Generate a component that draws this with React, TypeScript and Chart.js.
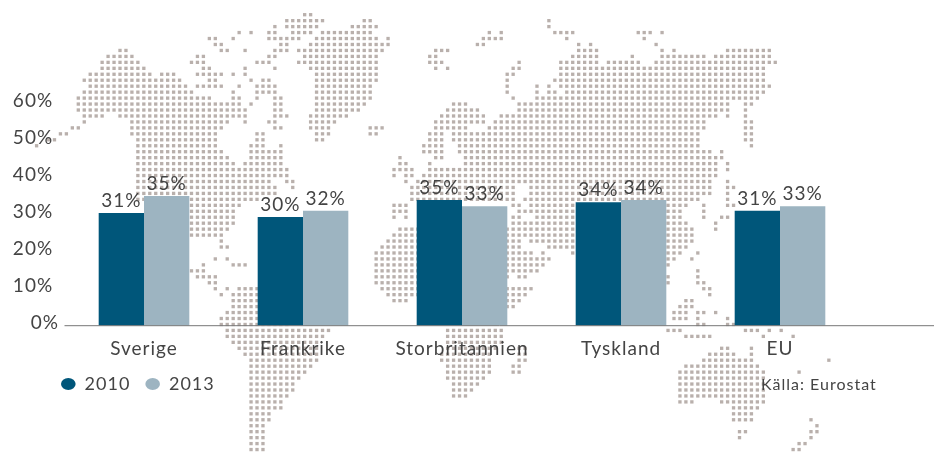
import React, { useEffect, useRef } from "react";
import { Chart, registerables } from "chart.js";

Chart.register(...registerables);

const categories = ["Sverige", "Frankrike", "Storbritannien", "Tyskland", "EU"];
const values2010 = [30.4, 29.3, 33.9, 33.3, 31];
const values2013 = [35, 31, 32.2, 33.9, 32.2];
const labels2010 = ["31%", "30%", "35%", "34%", "31%"];
const labels2013 = ["35%", "32%", "33%", "34%", "33%"];
const yTicks: Record<number, string> = { 0: "0%", 10: "10% ", 20: "20% ", 30: "30% ", 40: "40% ", 50: "50% ", 60: "60% " };
const sourceText = "Källa: Eurostat";

// Dotted world map: one list per grid row, flat [fromColumn, toColumn, ...] pairs.
const mapRows: number[][] = [
  [38,39],
  [35,41,48,49,79,79],
  [33,33,35,40,46,50,79,79],
  [27,27,29,29,32,33,36,39,41,49,69,69,71,71,80,83,94,96,98,98],
  [22,23,26,26,32,37,40,50,52,52,68,71,82,82,95,95],
  [23,24,34,35,39,52,67,68,84,84,86,86,97,97],
  [7,8,24,25,28,28,33,35,37,51,60,62,84,87,98,98,100,100,109,116],
  [5,9,20,21,32,33,38,50,59,60,83,87,93,93,98,105,107,116],
  [4,10,19,21,30,32,37,50,59,61,74,74,81,87,89,94,97,117],
  [4,11,21,22,28,28,33,33,39,50,60,60,62,62,73,74,81,115],
  [2,12,14,16,20,24,26,26,28,28,40,50,72,73,81,115],
  [1,17,22,23,29,29,31,32,40,50,72,72,80,115],
  [2,18,20,24,27,27,30,33,40,49,72,72,77,77,79,79,81,116],
  [1,19,26,26,30,33,40,49,72,72,77,77,79,80,82,115],
  [0,22,26,27,30,30,33,34,40,49,73,73,77,114],
  [0,27,29,29,33,34,40,48,63,65,74,109,112,113],
  [0,28,33,34,40,47,62,67,74,109,112,112],
  [1,4,7,27,28,28,33,35,39,45,61,68,71,107,109,109,112,112],
  [1,1,9,25,28,28,32,33,39,43,60,68,70,105,112,113],
  [-1,0,9,24,33,34,39,42,49,51,60,65,69,105,112,113],
  [-3,-2,9,23,30,31,40,42,49,50,59,61,63,104,112,113],
  [-5,-4,10,23,30,31,40,41,59,61,63,104,112,113],
  [-7,-7,10,23,29,31,34,34,58,61,64,104,113,113],
  [10,24,29,34,58,61,64,106,108,108],
  [10,25,29,34,54,54,60,61,65,107,108,108],
  [10,26,28,34,54,55,59,59,65,107,109,109],
  [10,27,28,35,53,56,59,107,109,109],
  [10,35,53,53,55,56,58,107],
  [10,32,35,36,55,55,57,106,109,109],
  [10,33,36,36,56,73,76,106,109,110],
  [10,33,56,73,76,106,109,109],
  [10,30,56,73,75,104,109,109],
  [19,27,53,55,73,74,76,102,105,105,109,110],
  [19,26,53,55,74,101,105,105],
  [19,26,53,53,55,55,73,74,77,101,105,105,108,109],
  [19,26,73,74,75,76,77,102,107,107],
  [19,25,54,103,107,107],
  [19,24,53,103],
  [24,24,52,74,76,103],
  [24,25,51,74,79,102],
  [50,76,78,78,83,101,104,104],
  [23,23,25,25,50,79,99,100,103,103],
  [21,21,26,28,50,78,99,99],
  [19,21,50,77,104,104],
  [20,23,50,72,74,75,99,99,104,104],
  [22,23,50,71,99,99,104,105],
  [23,23,25,25,27,35,51,76,105,106],
  [24,24,26,35,52,75,106,106],
  [26,35,53,55,72,74,102,103],
  [26,35,72,73,101,103],
  [25,35,100,102,104,105,107,107],
  [24,35,100,102,104,104,109,109],
  [24,35,104,105,109,110],
  [25,42,62,71,99,101,112,114,116,116,118,118],
  [25,41,62,71,102,106,115,115,120,120],
  [26,40,62,71],
  [27,40,62,70,74,75,108,109,113,113],
  [28,40,61,69,74,75,106,110,113,113],
  [29,40,61,69,74,75,105,113,126,126],
  [29,39,62,69,73,74,102,114],
  [29,38,62,69,73,74,101,115,121,121],
  [29,37,62,68,101,115],
  [29,36,63,67,101,115],
  [29,36,63,66,101,115],
  [29,35,63,65,101,115],
  [29,34,101,103,108,115],
  [29,34,110,114],
  [29,32,110,113],
  [29,32,110,113,123,123],
  [29,31,124,124],
  [29,31,111,112,123,124],
  [29,31,111,111,123,123],
  [29,31,121,122],
  [29,31,120,121],
];

const FONT = "Lato";
const FONT_SIZE = 19;
const TEXT = "#444444";
const DARK = "#00567a";
const LIGHT = "#9db4c1";
const DOT = "#b9b0ac";

const mapPoints = mapRows.flatMap((spans, row) => {
  const pts: { x: number; y: number }[] = [];
  for (let i = 0; i < spans.length; i += 2) {
    for (let col = spans[i]; col <= spans[i + 1]; col++) pts.push({ x: col, y: row });
  }
  return pts;
});

const spacingPlugin = {
  id: "spacing",
  beforeUpdate(chart: any) { chart.ctx.letterSpacing = "1px"; },
  beforeDraw(chart: any) { chart.ctx.letterSpacing = "1px"; },
};

const overlayPlugin = {
  id: "overlay",
  afterLayout(chart: any) {
    chart.legend.left = 46;
  },
  afterDatasetsDraw(chart: any) {
    const { ctx, scales } = chart;
    const y0 = scales.y.getPixelForValue(0);
    ctx.save();
    ctx.strokeStyle = "#777777";
    ctx.lineWidth = 1;
    ctx.beginPath();
    ctx.moveTo(chart.chartArea.left, y0);
    ctx.lineTo(chart.width, y0);
    ctx.stroke();

    ctx.fillStyle = TEXT;
    ctx.font = `${FONT_SIZE}px ${FONT}`;
    ctx.textAlign = "center";
    ctx.textBaseline = "middle";
    [labels2010, labels2013].forEach((texts, ds) => {
      chart.getDatasetMeta(ds).data.forEach((bar: any, i: number) => {
        ctx.fillText(texts[i], bar.x, bar.y - 12.4);
      });
    });
    ctx.font = `16px ${FONT}`;
    ctx.textAlign = "left";
    ctx.fillText(sourceText, 761, 385);
    ctx.restore();
  },
};

const layerStyle: React.CSSProperties = { position: "absolute", left: 0, top: 0, width: 934, height: 452 };

export default function App() {
  const mapRef = useRef<HTMLCanvasElement>(null);
  const barRef = useRef<HTMLCanvasElement>(null);
  useEffect(() => {
    document.body.style.margin = "0";
    const map = new Chart(mapRef.current!, {
      type: "scatter",
      data: {
        datasets: [
          {
            label: "map",
            data: mapPoints,
            pointStyle: "rect",
            pointRadius: 2.35,
            pointBorderWidth: 0,
            backgroundColor: DOT,
            clip: false,
          },
        ],
      },
      options: {
        animation: false,
        responsive: false,
        devicePixelRatio: 1,
        events: [],
        layout: { autoPadding: false, padding: 0 },
        scales: {
          x: { type: "linear", display: false, min: -13.145, max: 143.65 },
          y: { type: "linear", display: false, reverse: true, min: -2.468, max: 73.41 },
        },
        plugins: { legend: { display: false }, tooltip: { enabled: false } },
      } as any,
    });
    const chart = new Chart(barRef.current!, {
      type: "bar",
      data: {
        labels: categories,
        datasets: [
          { label: "2010", data: values2010, backgroundColor: DARK, borderWidth: 0 },
          { label: "2013", data: values2013, backgroundColor: LIGHT, borderWidth: 0 },
        ],
      },
      options: {
        animation: false,
        responsive: false,
        devicePixelRatio: 1,
        events: [],
        categoryPercentage: 0.57,
        barPercentage: 1,
        layout: { autoPadding: false, padding: { left: 0, right: 74.5, top: 103.3, bottom: 48.9 } },
        scales: {
          x: {
            grid: { display: false, drawTicks: false },
            border: { display: false },
            afterFit: (s: any) => { s.height = 34.4; },
            ticks: { color: TEXT, font: { family: FONT, size: FONT_SIZE }, padding: 12, autoSkip: false, maxRotation: 0 },
          },
          y: {
            min: 0,
            max: 60,
            afterFit: (s: any) => { s.width = 64.5; },
            grid: { display: false, drawTicks: false },
            border: { display: false },
            ticks: {
              color: TEXT,
              font: { family: FONT, size: FONT_SIZE },
              stepSize: 10,
              padding: 5.5,
              labelOffset: -2.6,
              callback: (v: any) => yTicks[v],
            },
          },
        },
        plugins: {
          tooltip: { enabled: false },
          legend: {
            position: "bottom",
            align: "start",
            labels: {
              usePointStyle: true,
              pointStyle: "circle",
              pointStyleWidth: 14.6,
              boxHeight: 8.5,
              padding: 15,
              color: TEXT,
              font: { family: FONT, size: 18 },
            },
          },
        },
      } as any,
      plugins: [spacingPlugin, overlayPlugin],
    });
    return () => {
      chart.destroy();
      map.destroy();
    };
  }, []);
  return (
    <div style={{ position: "relative", width: 934, height: 452 }}>
      <canvas ref={mapRef} width={934} height={452} style={layerStyle} />
      <canvas ref={barRef} width={934} height={452} style={layerStyle} />
    </div>
  );
}
